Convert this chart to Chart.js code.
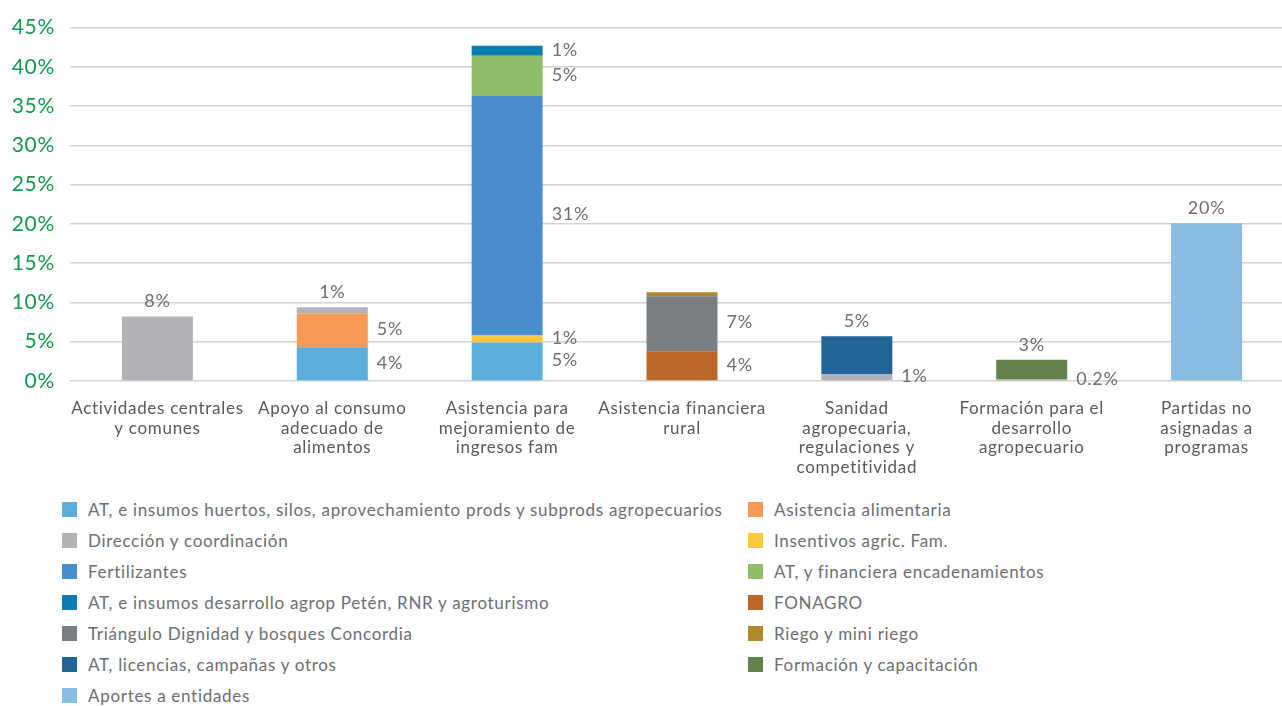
<!DOCTYPE html>
<html>
<head>
<meta charset="utf-8">
<script src="https://cdn.jsdelivr.net/npm/chart.js@4"></script>
<style>
    html, body { margin: 0; padding: 0; background: #fff; overflow: hidden; }
    #wrap { position: relative; width: 1294px; height: 480px; }
    #legend {
        position: absolute; left: 62px; top: 494px;
        display: grid; grid-template-columns: 686px 400px;
        font-family: Lato, sans-serif; font-size: 17px; color: #6d6e71;
        letter-spacing: 0.7px;
    }
    .item { height: 31px; display: flex; align-items: center; }
    .swatch { width: 15px; height: 15px; margin-right: 11px; flex: none; }
</style>
</head>
<body>
<div id="wrap"><canvas id="chart"></canvas></div>
<div id="legend"></div>
<script>
// Categories (x axis)
const categories = [
    ['Actividades centrales', 'y comunes'],
    ['Apoyo al consumo', 'adecuado de', 'alimentos'],
    ['Asistencia para', 'mejoramiento de', 'ingresos fam'],
    ['Asistencia financiera', 'rural'],
    ['Sanidad', 'agropecuaria,', 'regulaciones y', 'competitividad'],
    ['Formación para el', 'desarrollo', 'agropecuario'],
    ['Partidas no', 'asignadas a', 'programas']
];

const seriesNames = [
    'AT, e insumos huertos, silos, aprovechamiento prods y subprods agropecuarios',
    'Asistencia alimentaria',
    'Dirección y coordinación',
    'Insentivos agric. Fam.',
    'Fertilizantes',
    'AT, y financiera encadenamientos',
    'AT, e insumos desarrollo agrop Petén, RNR y agroturismo',
    'FONAGRO',
    'Triángulo Dignidad y bosques Concordia',
    'Riego y mini riego',
    'AT, licencias, campañas y otros',
    'Formación y capacitación',
    'Aportes a entidades'
];

const seriesColors = [
    '#5aafdd', '#f69a56', '#b1b3b6', '#fdc73e', '#4a8ecb', '#8fbd6c', '#0b7db0',
    '#bc6628', '#7a7e82', '#b2882c', '#216598', '#62834c', '#88bedf'
];

// percent values per series, one per category
const atHuertos      = [null, 4.3, 4.9, null, null, null, null];
const asistAlim      = [null, 4.3, null, null, null, null, null];
const direccion      = [8.2, 0.8, null, null, 0.9, 0.2, null];
const insentivos     = [null, null, 0.9, null, null, null, null];
const fertilizantes  = [null, null, 30.5, null, null, null, null];
const atFinanciera   = [null, null, 5.1, null, null, null, null];
const atPeten        = [null, null, 1.3, null, null, null, null];
const fonagro        = [null, null, null, 3.8, null, null, null];
const triangulo      = [null, null, null, 7.0, null, null, null];
const riego          = [null, null, null, 0.5, null, null, null];
const atLicencias    = [null, null, null, null, 4.8, null, null];
const formacion      = [null, null, null, null, null, 2.5, null];
const aportes        = [null, null, null, null, null, null, 20.1];

const seriesValues = [atHuertos, asistAlim, direccion, insentivos, fertilizantes, atFinanciera,
    atPeten, fonagro, triangulo, riego, atLicencias, formacion, aportes];

// printed labels (as shown in the source, rounded)
const seriesLabels = [
    [null, '4%', '5%', null, null, null, null],
    [null, '5%', null, null, null, null, null],
    ['8%', '1%', null, null, '1%', '0.2%', null],
    [null, null, '1%', null, null, null, null],
    [null, null, '31%', null, null, null, null],
    [null, null, '5%', null, null, null, null],
    [null, null, '1%', null, null, null, null],
    [null, null, null, '4%', null, null, null],
    [null, null, null, '7%', null, null, null],
    [null, null, null, null, null, null, null],
    [null, null, null, null, '5%', null, null],
    [null, null, null, null, null, '3%', null],
    [null, null, null, null, null, null, '20%']
];

// labels that sit above the bar instead of to its right ("series-category")
const labelsAbove = ['2-0', '2-1', '10-4', '11-5', '12-6'];

const yMax = 45;
const yStep = 5;

const valueLabelPlugin = {
    id: 'valueLabels',
    beforeDraw(chart) {
        // source font runs a bit wider than Lato
        chart.ctx.letterSpacing = '0.7px';
    },
    afterDatasetsDraw(chart) {
        const ctx = chart.ctx;
        ctx.save();
        ctx.font = '18px Lato, sans-serif';
        ctx.fillStyle = '#6d6e71';
        chart.data.datasets.forEach((ds, si) => {
            const meta = chart.getDatasetMeta(si);
            meta.data.forEach((bar, ci) => {
                const text = seriesLabels[si][ci];
                if (!text) return;
                if (labelsAbove.includes(si + '-' + ci)) {
                    ctx.textAlign = 'center';
                    ctx.textBaseline = 'middle';
                    ctx.fillText(text, bar.x, bar.y - 15);
                } else {
                    ctx.textAlign = 'left';
                    ctx.textBaseline = 'middle';
                    ctx.fillText(text, bar.x + bar.width / 2 + 9, (bar.y + bar.base) / 2 - 1);
                }
            });
        });
        ctx.restore();
    }
};

const chart = new Chart(document.getElementById('chart'), {
    type: 'bar',
    data: {
        labels: categories,
        datasets: seriesNames.map((name, i) => ({
            label: name,
            data: seriesValues[i],
            backgroundColor: seriesColors[i],
            borderWidth: 0,
            barPercentage: 0.406,
            categoryPercentage: 1
        }))
    },
    options: {
        responsive: true,
        maintainAspectRatio: false,
        animation: false,
        layout: { padding: { top: 14, right: 0, left: 0, bottom: 0 } },
        plugins: {
            legend: { display: false },
            tooltip: { enabled: false }
        },
        scales: {
            x: {
                stacked: true,
                grid: { display: false, drawTicks: false },
                border: { display: false },
                ticks: {
                    color: '#58595b',
                    font: { family: 'Lato, sans-serif', size: 17, lineHeight: 1.15 },
                    padding: 18,
                    maxRotation: 0,
                    autoSkip: false
                },
                afterFit: (s) => { s.height = 99; }
            },
            y: {
                stacked: true,
                min: 0,
                max: yMax,
                grid: { color: '#d2d2d2', lineWidth: 1.5, drawTicks: false },
                border: { display: false },
                ticks: {
                    stepSize: yStep,
                    color: '#139a4b',
                    font: { family: 'Lato, sans-serif', size: 21 },
                    padding: 15,
                    callback: (v) => v + '%'
                },
                afterFit: (s) => { s.width = 70; }
            }
        }
    },
    plugins: [valueLabelPlugin]
});

// Legend, two columns, row-major like the source
const legend = document.getElementById('legend');
seriesNames.forEach((name, i) => {
    const item = document.createElement('div');
    item.className = 'item';
    item.innerHTML = `<span class="swatch" style="background:${seriesColors[i]}"></span><span>${name}</span>`;
    legend.appendChild(item);
});
</script>
</body>
</html>
